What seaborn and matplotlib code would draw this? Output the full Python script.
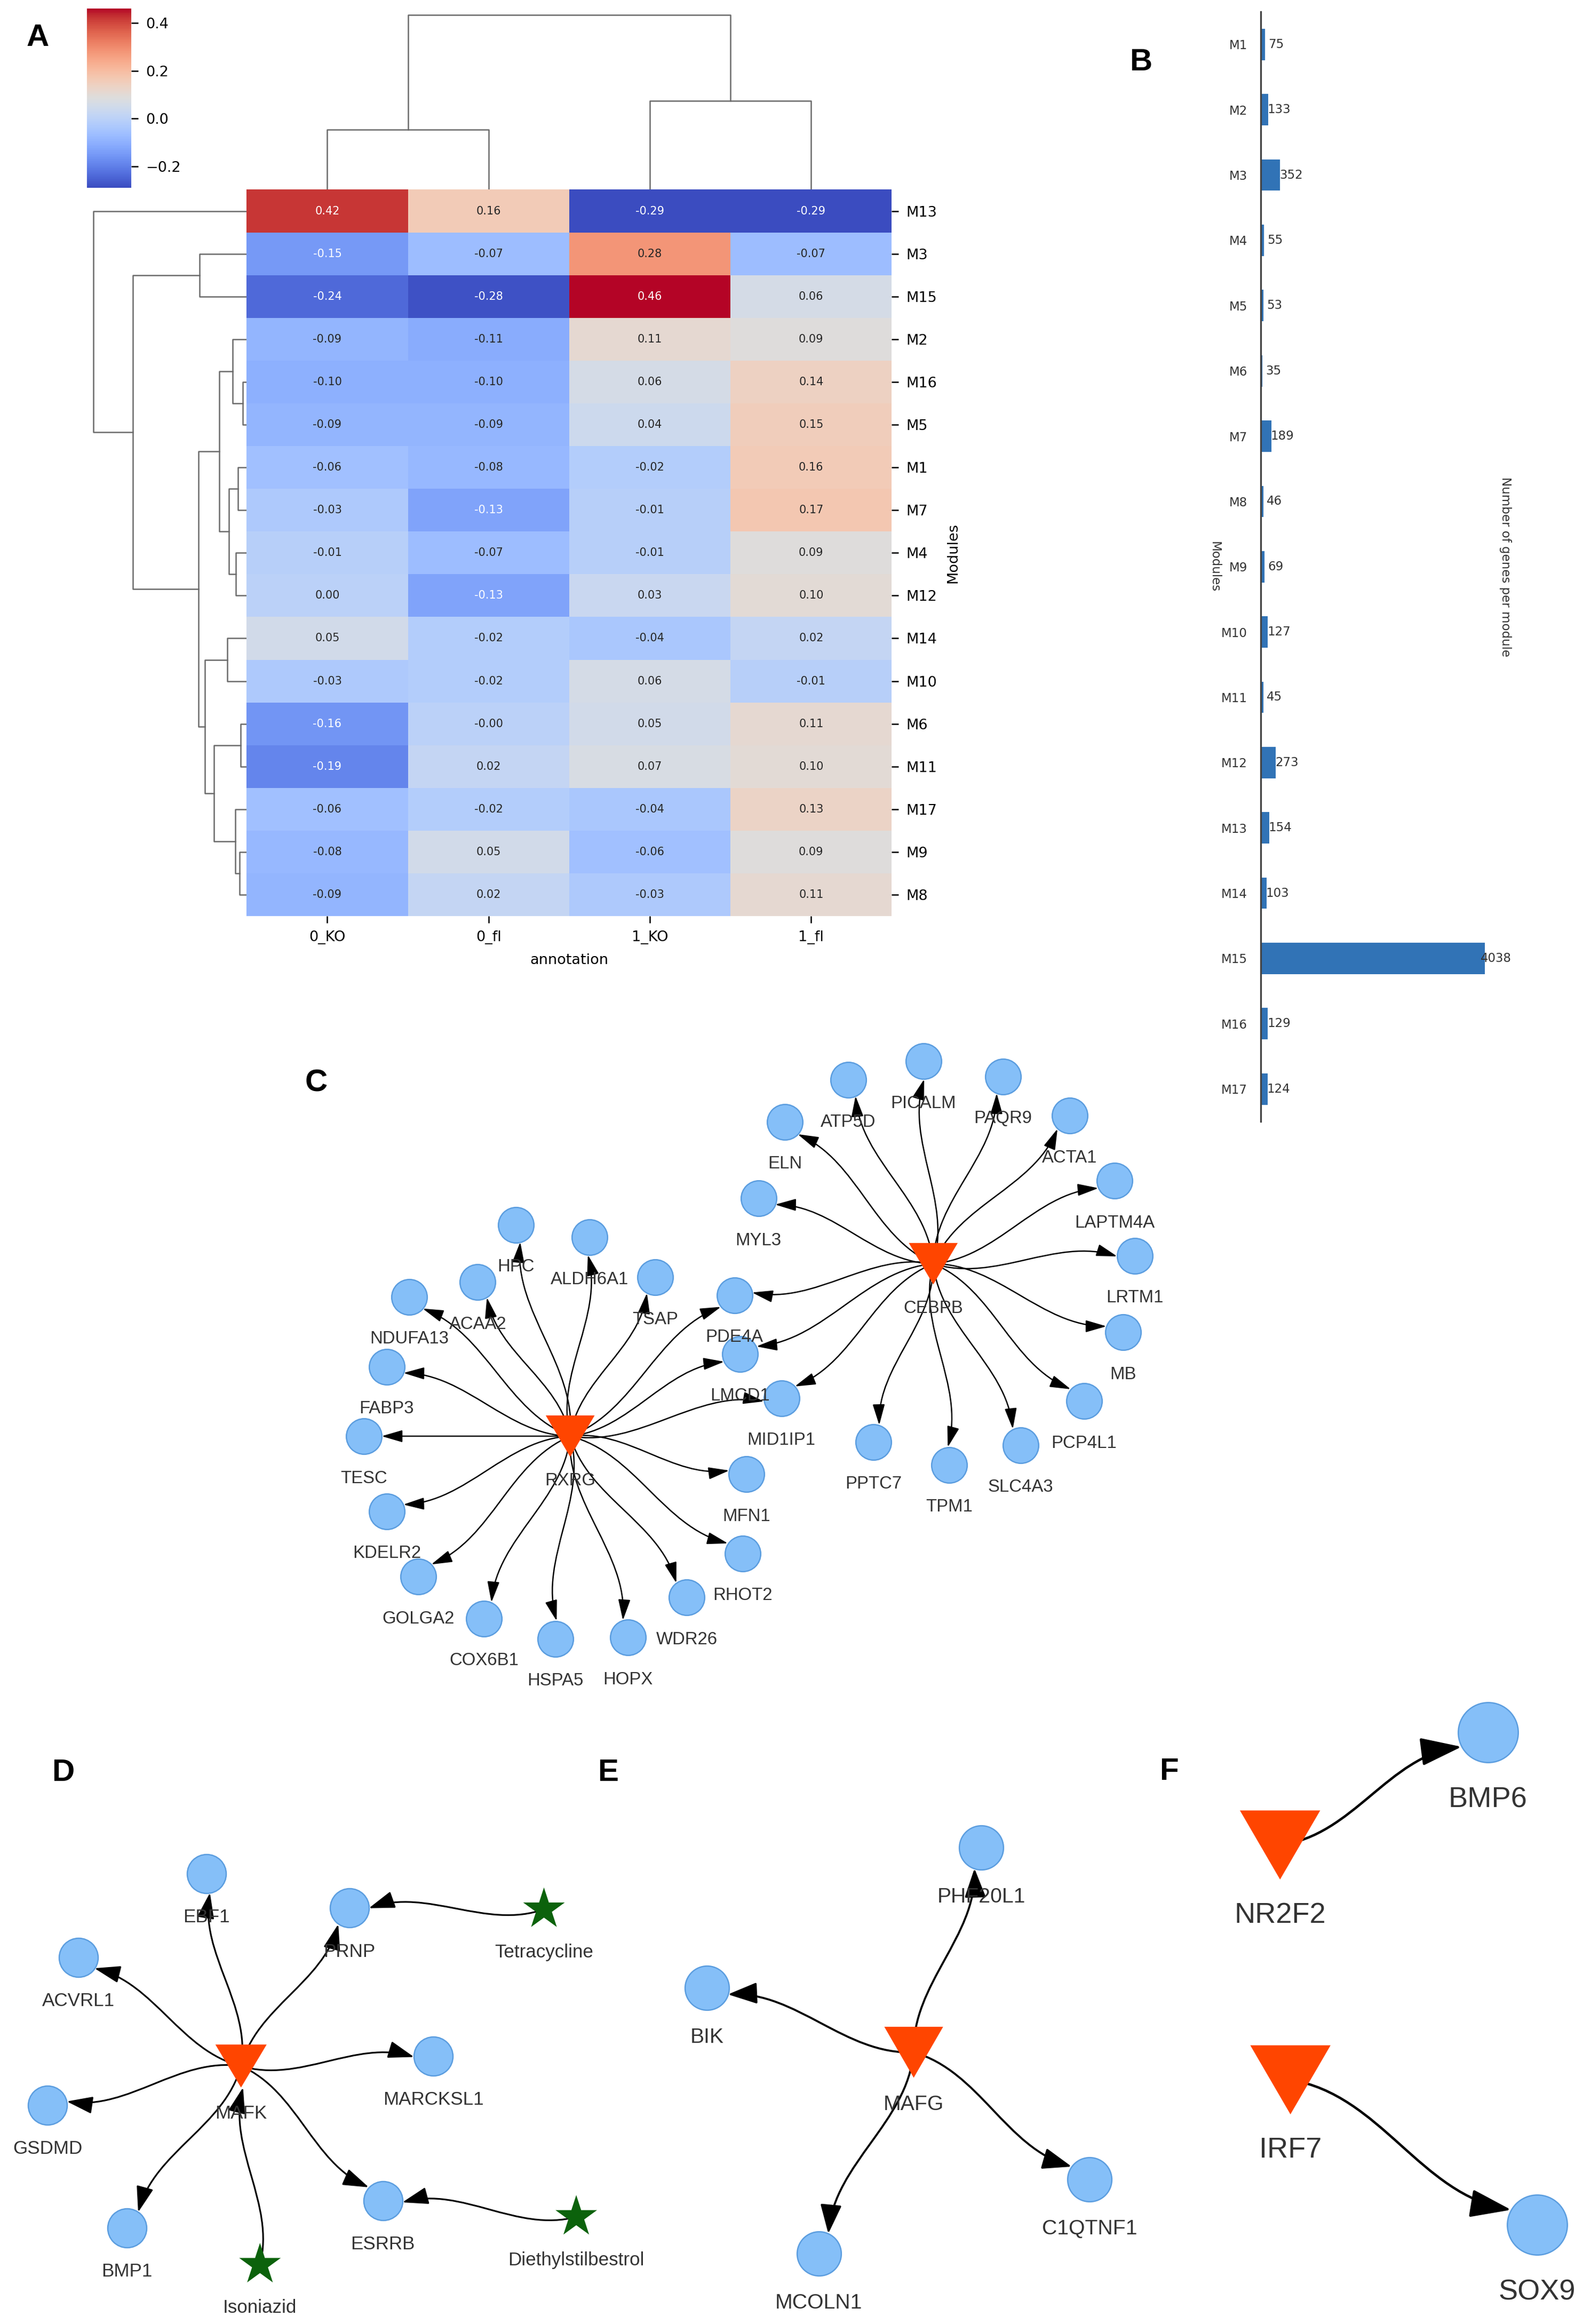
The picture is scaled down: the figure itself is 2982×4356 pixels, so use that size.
import numpy as np
import pandas as pd
import matplotlib
matplotlib.use("Agg")
import matplotlib.pyplot as plt
import seaborn as sns
from matplotlib.path import Path
from matplotlib.patches import FancyArrowPatch

# ---------------- Panel A : module scores per annotation ----------------
modules_hm = ['M13', 'M3', 'M15', 'M2', 'M16', 'M5', 'M1', 'M7', 'M4', 'M12',
              'M14', 'M10', 'M6', 'M11', 'M17', 'M9', 'M8']
annotations = ['0_KO', '0_fl', '1_KO', '1_fl']
ko0 = [0.42, -0.15, -0.24, -0.09, -0.10, -0.09, -0.06, -0.03, -0.01, 0.00,
       0.05, -0.03, -0.16, -0.19, -0.06, -0.08, -0.09]
fl0 = [0.16, -0.07, -0.28, -0.11, -0.10, -0.09, -0.08, -0.13, -0.07, -0.13,
       -0.02, -0.02, -0.0, 0.02, -0.02, 0.05, 0.02]
ko1 = [-0.29, 0.28, 0.46, 0.11, 0.06, 0.04, -0.02, -0.01, -0.01, 0.03,
       -0.04, 0.06, 0.05, 0.07, -0.04, -0.06, -0.03]
fl1 = [-0.29, -0.07, 0.06, 0.09, 0.14, 0.15, 0.16, 0.17, 0.09, 0.10,
       0.02, -0.01, 0.11, 0.10, 0.13, 0.09, 0.11]

# ---------------- Panel B : genes per module ----------------
modules_bar = ['M%d' % i for i in range(1, 18)]
genes_per_module = [75, 133, 352, 55, 53, 35, 189, 46, 69, 127, 45, 273, 154, 103, 4038, 129, 124]

# ---------------- Panel C : RXRG / CEBPB network (layout in reference units) ----------------
c_names = ['RXRG', 'CEBPB', 'HPC', 'ALDH6A1', 'TSAP', 'ACAA2', 'NDUFA13', 'FABP3', 'TESC',
           'KDELR2', 'GOLGA2', 'COX6B1', 'HSPA5', 'HOPX', 'WDR26', 'RHOT2', 'MFN1',
           'PDE4A', 'LMCD1', 'MID1IP1', 'MYL3', 'ELN', 'ATP5D', 'PICALM', 'PAQR9',
           'ACTA1', 'LAPTM4A', 'LRTM1', 'MB', 'PCP4L1', 'SLC4A3', 'TPM1', 'PPTC7']
c_x = [384.9, 630.0, 348.2, 398.0, 442.4, 322.5, 276.2, 261.1, 245.6,
       261.1, 282.3, 326.6, 374.9, 423.8, 463.6, 501.3, 504.0,
       495.8, 499.7, 527.5, 512.0, 529.8, 572.5, 623.3, 677.0,
       722.0, 752.4, 766.2, 758.2, 731.7, 688.9, 640.7, 589.7]
c_y = [969.3, 852.9, 826.6, 835.0, 862.1, 865.4, 875.3, 922.4, 969.3,
       1020.0, 1064.0, 1092.3, 1106.0, 1105.1, 1078.2, 1048.4, 995.0,
       874.2, 913.8, 943.7, 808.8, 757.2, 728.8, 716.3, 726.6,
       753.0, 796.9, 847.5, 899.2, 945.7, 975.3, 988.7, 973.2]
c_kind = ['tf', 'tf'] + ['gene'] * 31
c_edges = [('RXRG', g) for g in ['HPC', 'ALDH6A1', 'TSAP', 'ACAA2', 'NDUFA13', 'FABP3', 'TESC',
                                 'KDELR2', 'GOLGA2', 'COX6B1', 'HSPA5', 'HOPX', 'WDR26',
                                 'RHOT2', 'MFN1', 'PDE4A', 'LMCD1', 'MID1IP1']] + \
          [('CEBPB', g) for g in ['MYL3', 'ELN', 'ATP5D', 'PICALM', 'PAQR9', 'ACTA1', 'LAPTM4A',
                                  'LRTM1', 'MB', 'PCP4L1', 'SLC4A3', 'TPM1', 'PPTC7',
                                  'MID1IP1', 'LMCD1', 'PDE4A']]

# ---------------- Panel D : MAFK ----------------
d_names = ['MAFK', 'EBF1', 'PRNP', 'ACVRL1', 'MARCKSL1', 'GSDMD', 'BMP1', 'ESRRB',
           'Tetracycline', 'Diethylstilbestrol', 'Isoniazid']
d_x = [162.7, 139.4, 235.8, 52.8, 292.6, 32.2, 85.7, 258.5, 367.2, 389.0, 175.5]
d_y = [1394.4, 1264.5, 1287.8, 1321.1, 1387.6, 1420.9, 1503.8, 1485.3, 1288.6, 1496.2, 1528.5]
d_kind = ['tf'] + ['gene'] * 7 + ['drug'] * 3
d_edges = [('MAFK', g) for g in ['EBF1', 'PRNP', 'ACVRL1', 'MARCKSL1', 'GSDMD', 'BMP1', 'ESRRB']] + \
          [('Tetracycline', 'PRNP'), ('Diethylstilbestrol', 'ESRRB'), ('Isoniazid', 'MAFK')]

# ---------------- Panel E : MAFG ----------------
e_names = ['MAFG', 'PHF20L1', 'BIK', 'C1QTNF1', 'MCOLN1']
e_x = [616.8, 662.5, 477.2, 735.5, 552.8]
e_y = [1385.1, 1246.9, 1341.6, 1471.0, 1521.0]
e_kind = ['tf', 'gene', 'gene', 'gene', 'gene']
e_edges = [('MAFG', g) for g in ['PHF20L1', 'BIK', 'C1QTNF1', 'MCOLN1']]

# ---------------- Panel F : NR2F2 / IRF7 ----------------
f_names = ['NR2F2', 'BMP6', 'IRF7', 'SOX9']
f_x = [864.1, 1004.4, 871.1, 1037.5]
f_y = [1245.2, 1169.3, 1403.7, 1501.7]
f_kind = ['tf', 'gene', 'tf', 'gene']
f_edges = [('NR2F2', 'BMP6'), ('IRF7', 'SOX9')]

# ------------------------------------------------------------------
W, H = 1074.0, 1568.5          # reference layout units
fig = plt.figure(figsize=(2982 / 300, 4356 / 300), dpi=300)
fig.patch.set_facecolor('white')
PT = fig.get_figwidth() * 72 / W   # points per layout unit
LABEL_FONT = ['Liberation Sans', 'DejaVu Sans']


def box(x0, y0, x1, y1):
    return [x0 / W, 1 - y1 / H, (x1 - x0) / W, (y1 - y0) / H]


def ward_linkage(X):
    # Ward clustering (Lance-Williams update on euclidean distances)
    X = np.asarray(X, float)
    n = len(X)
    D = np.sqrt(((X[:, None, :] - X[None, :, :]) ** 2).sum(-1))
    dist = {}
    for i in range(n):
        for j in range(i + 1, n):
            dist[(i, j)] = D[i, j]
    size = {i: 1 for i in range(n)}
    merges = []
    nid = n
    while len(size) > 1:
        (a, b), d = min(dist.items(), key=lambda kv: kv[1])
        merges.append((a, b, d))
        na, nb = size.pop(a), size.pop(b)
        new = {}
        for k, nk in size.items():
            dak = dist[(min(a, k), max(a, k))]
            dbk = dist[(min(b, k), max(b, k))]
            new[(k, nid)] = np.sqrt(((na + nk) * dak ** 2 + (nb + nk) * dbk ** 2 - nk * d ** 2)
                                    / (na + nb + nk))
        dist = {key: v for key, v in dist.items() if a not in key and b not in key}
        dist.update(new)
        size[nid] = na + nb
        nid += 1
    return merges


def draw_dendrogram(ax, merges, n, side):
    pos = {i: i + 0.5 for i in range(n)}
    hgt = {i: 0.0 for i in range(n)}
    for k, (a, b, d) in enumerate(merges):
        pos[n + k] = (pos[a] + pos[b]) / 2
        hgt[n + k] = d
        p = [pos[a], pos[a], pos[b], pos[b]]
        h = [hgt[a], d, d, hgt[b]]
        if side == 'top':
            ax.plot(p, h, color='#6b6b6b', lw=0.6)
        else:
            ax.plot(h, p, color='#6b6b6b', lw=0.6)
    top = max(hgt.values()) * 1.05
    if side == 'top':
        ax.set_xlim(0, n)
        ax.set_ylim(0, top)
    else:
        ax.set_ylim(n, 0)
        ax.set_xlim(top, 0)
    ax.axis('off')


# ---------------- A : clustered heatmap ----------------
df = pd.DataFrame({'0_KO': ko0, '0_fl': fl0, '1_KO': ko1, '1_fl': fl1}, index=modules_hm)
df = df[annotations]
df.index.name = 'Modules'
df.columns.name = 'annotation'

ax_hm = fig.add_axes(box(166.5, 128, 602, 618.3))
cax = fig.add_axes(box(58.7, 5.8, 88.5, 126.7))
sns.heatmap(df, ax=ax_hm, cbar_ax=cax, cmap='coolwarm', annot=True, fmt='.2f',
            annot_kws={'size': 5})
ax_hm.yaxis.tick_right()
ax_hm.yaxis.set_label_position('right')
plt.setp(ax_hm.get_yticklabels(), rotation=0)
plt.setp(ax_hm.get_xticklabels(), rotation=0)
ax_hm.tick_params(axis='both', labelsize=6.5, length=3, width=0.6)
ax_hm.set_xlabel('annotation', fontsize=6.5)
ax_hm.set_ylabel('Modules', fontsize=6.5)
cax.tick_params(labelsize=6.5, length=3, width=0.6)

ax_rd = fig.add_axes(box(58, 128, 166.5, 618.3))
draw_dendrogram(ax_rd, ward_linkage(df.values), len(df), 'left')
ax_cd = fig.add_axes(box(166.5, 4, 602, 128))
draw_dendrogram(ax_cd, ward_linkage(df.values.T), df.shape[1], 'top')

# ---------------- B : bar chart ----------------
ax_b = fig.add_axes(box(851, 8, 1010, 757))
sns.barplot(x=genes_per_module, y=modules_bar, orient='h', color='#3173b6',
            saturation=1, width=0.48, ax=ax_b)
ax_b.set_xlim(0, max(genes_per_module) * 1.05)
for side in ['top', 'right', 'bottom']:
    ax_b.spines[side].set_visible(False)
ax_b.spines['left'].set_color('#444444')
ax_b.spines['left'].set_linewidth(0.8)
ax_b.set_xticks([])
ax_b.tick_params(axis='y', length=0, pad=6, labelsize=5.5, labelcolor='#333333')
for i, v in enumerate(genes_per_module):
    ax_b.annotate(str(v), xy=(v, i), xytext=(5, 0), textcoords='offset points',
                  ha='center', va='center', fontsize=5.5, color='#333333')
ax_b.set_xlabel('')
ax_b.set_ylabel('Modules', fontsize=5.5, rotation=270, color='#333333')
ax_b.yaxis.set_label_coords(-0.195, 0.5)
ax_b.yaxis.label.set_verticalalignment('center')
ax_b.text(1.04, 0.5, 'Number of genes per module', transform=ax_b.transAxes,
          rotation=270, ha='center', va='center', fontsize=5.5, color='#333333')

# ---------------- C-F : regulatory networks ----------------
ax_n = fig.add_axes([0, 0, 1, 1])

style_c = dict(circle=24, tri_w=33, tri_h=28, star=0, font=7.9, lw=0.6, head_len=12,
               head_w=7, off_gene=27.3, off_tf=29, off_drug=0, bend=0.12)
style_d = dict(circle=26.3, tri_w=34.6, tri_h=29, star=29.5, font=8.4, lw=0.75, head_len=15,
               head_w=10, off_gene=28.3, off_tf=31, off_drug=28, bend=0.12)
style_e = dict(circle=29.8, tri_w=39.7, tri_h=34.4, star=0, font=9.4, lw=0.9, head_len=17,
               head_w=12.5, off_gene=32, off_tf=34, off_drug=0, bend=0.12)
style_f = dict(circle=40.5, tri_w=54.2, tri_h=46.6, star=0, font=13, lw=1.1, head_len=24,
               head_w=16.5, off_gene=43.5, off_tf=45.5, off_drug=0, bend=0.13)


def draw_edge(ax, p0, c, r_end, st):
    p0 = np.array(p0, float)
    c = np.array(c, float)
    u = (c - p0) / np.hypot(*(c - p0))
    p3 = c - u * r_end
    v = p3 - p0
    if abs(v[0]) >= abs(v[1]):
        b = -np.sign(v[0] * v[1]) * st['bend']
    else:
        b = np.sign(v[0] * v[1]) * st['bend']
    nrm = np.array([-v[1], v[0]])
    p1 = p0 + v / 3 + nrm * b
    p2 = p0 + 2 * v / 3 - nrm * b
    path = Path([p0, p1, p2, p3], [Path.MOVETO, Path.CURVE4, Path.CURVE4, Path.CURVE4])
    hl = st['head_len'] * PT / 10
    hw = st['head_w'] * PT / 20
    ax.add_patch(FancyArrowPatch(path=path, arrowstyle='-|>,head_length=%.3f,head_width=%.3f' % (hl, hw),
                                 mutation_scale=10, lw=st['lw'], color='black', zorder=2))


def draw_network(ax, names, xs, ys, kinds, edges, st):
    pos = dict(zip(names, zip(xs, ys)))
    kind = dict(zip(names, kinds))
    for s, t in edges:
        r_end = st['circle'] / 2 if kind[t] == 'gene' else st['tri_h'] / 2
        draw_edge(ax, pos[s], pos[t], r_end, st)
    hr = st['tri_h'] / st['tri_w']
    tri = Path([(-1, hr), (1, hr), (0, -hr), (-1, hr)], closed=True)
    groups = {
        'gene': dict(marker='o', s=(st['circle'] * PT) ** 2, color='#85bff8',
                     edgecolor='#5b9ddf', linewidth=0.6),
        'tf': dict(marker=tri, s=(st['tri_w'] * PT) ** 2, color='#ff4500',
                   edgecolor='none', linewidth=0),
        'drug': dict(marker='*', s=(st['star'] * PT) ** 2, color='#0c620c',
                     edgecolor='none', linewidth=0),
    }
    for k, kw in groups.items():
        sel = [i for i, kk in enumerate(kinds) if kk == k]
        if not sel:
            continue
        sns.scatterplot(x=[xs[i] for i in sel], y=[ys[i] for i in sel], ax=ax,
                        legend=False, zorder=3, **kw)
    for nm, x, y, k in zip(names, xs, ys, kinds):
        yy = y + st['off_' + k] + 0.358 * st['font'] / PT
        ax.text(x, yy, nm, ha='center', va='baseline', fontsize=st['font'],
                color='#333333', family=LABEL_FONT, zorder=4)


draw_network(ax_n, c_names, c_x, c_y, c_kind, c_edges, style_c)
draw_network(ax_n, d_names, d_x, d_y, d_kind, d_edges, style_d)
draw_network(ax_n, e_names, e_x, e_y, e_kind, e_edges, style_e)
draw_network(ax_n, f_names, f_x, f_y, f_kind, f_edges, style_f)
ax_n.set_xlim(0, W)
ax_n.set_ylim(H, 0)
ax_n.axis('off')

# panel letters
for letter, x, y in [('A', 25.6, 23.4), ('B', 770, 40), ('C', 213.5, 729),
                     ('D', 42.7, 1194.3), ('E', 410.5, 1194.3), ('F', 789, 1193.6)]:
    ax_n.text(x, y + 0.358 * 14 / PT, letter, ha='center', va='baseline', fontsize=14,
              fontweight='bold', family=LABEL_FONT, color='black')

fig.savefig('out.png', dpi=300)
